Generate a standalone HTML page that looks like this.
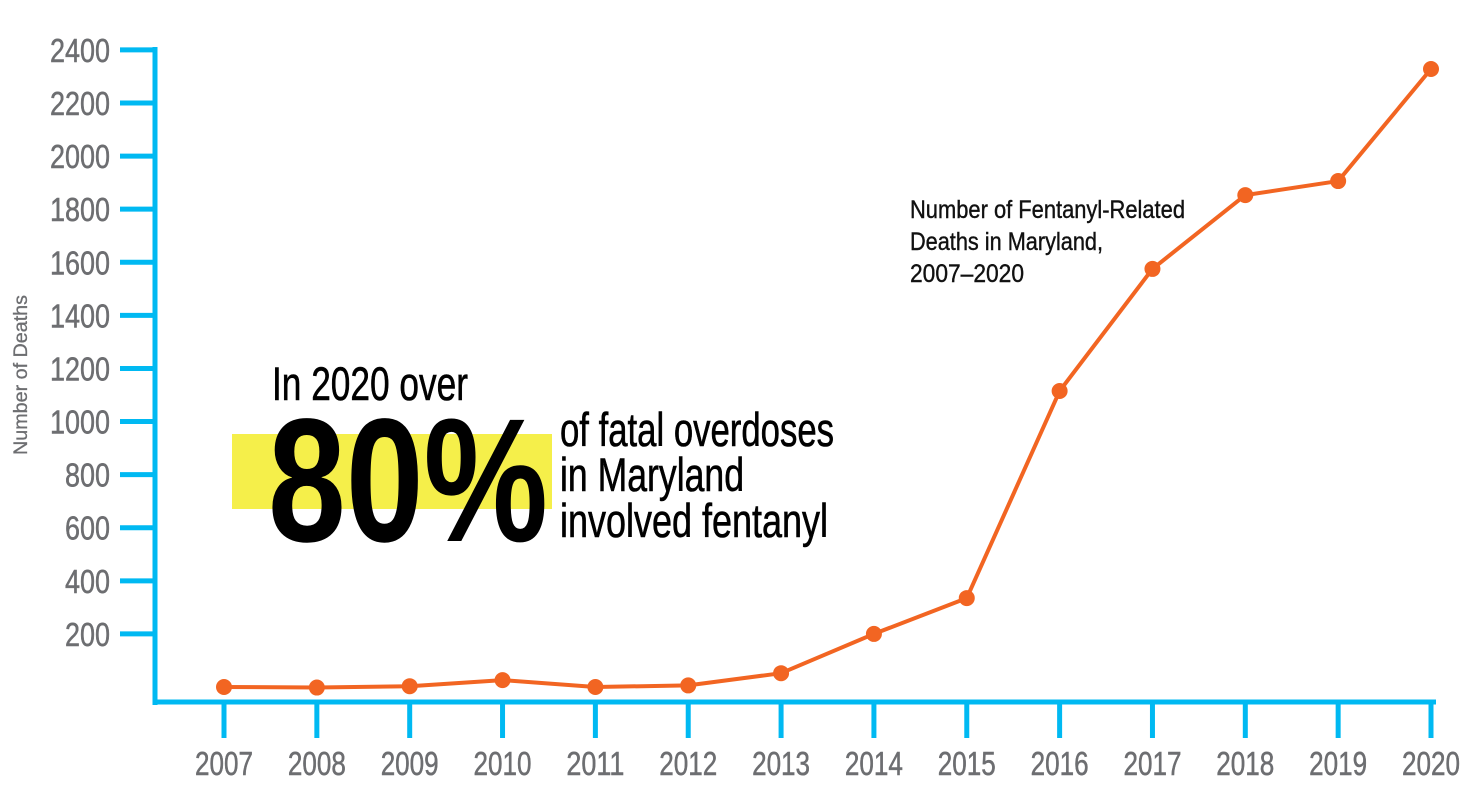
<!DOCTYPE html>
<html><head><meta charset="utf-8"><style>
html,body{margin:0;padding:0;background:#fff;width:1482px;height:788px;overflow:hidden}
svg{display:block}
text{font-family:"Liberation Sans Narrow","Liberation Sans",sans-serif}
</style></head><body>
<svg id="chart" width="1482" height="788" viewBox="0 0 1482 788">
<g id="axes"></g>
<g id="series"></g>
<text transform="translate(27,375) rotate(-90)" text-anchor="middle" font-size="19" fill="#6d6e71" stroke="#6d6e71" stroke-width="0.3" textLength="160" lengthAdjust="spacingAndGlyphs">Number of Deaths</text>
<g font-size="25" fill="#111" stroke="#111" stroke-width="0.4">
<text x="910" y="218" textLength="275" lengthAdjust="spacingAndGlyphs">Number of Fentanyl-Related</text>
<text x="910" y="250" textLength="193" lengthAdjust="spacingAndGlyphs">Deaths in Maryland,</text>
<text x="910" y="282" textLength="114" lengthAdjust="spacingAndGlyphs">2007–2020</text>
</g>
<g>
<rect x="232" y="434" width="320" height="75" fill="#f5ef4a"/>
<text x="272" y="400" font-size="47" fill="#000" stroke="#000" stroke-width="0.6" textLength="196" lengthAdjust="spacingAndGlyphs">In 2020 over</text>
<text x="268" y="541" font-size="176" font-weight="bold" fill="#000" textLength="280" lengthAdjust="spacingAndGlyphs">80%</text>
<text x="560" y="446" font-size="47" fill="#000" stroke="#000" stroke-width="0.6" textLength="274" lengthAdjust="spacingAndGlyphs">of fatal overdoses</text>
<text x="560" y="491" font-size="47" fill="#000" stroke="#000" stroke-width="0.6" textLength="184" lengthAdjust="spacingAndGlyphs">in Maryland</text>
<text x="560" y="537" font-size="47" fill="#000" stroke="#000" stroke-width="0.6" textLength="268" lengthAdjust="spacingAndGlyphs">involved fentanyl</text>
</g>
</svg>
<script>
const years = ["2007","2008","2009","2010","2011","2012","2013","2014","2015","2016","2017","2018","2019","2020"];
const deaths = [0, -2, 3, 26, 0, 6, 52, 200, 335, 1115, 1575, 1853, 1906, 2328];
const yTicks = [200,400,600,800,1000,1200,1400,1600,1800,2000,2200,2400];

const NS = "http://www.w3.org/2000/svg";
const xScale = i => 224 + i * (1431 - 224) / (years.length - 1);
const yScale = v => 687 - v * (634 - 50) / 2200;
function mk(tag, attrs, parent){const e=document.createElementNS(NS,tag);for(const k in attrs)e.setAttribute(k,attrs[k]);parent.appendChild(e);return e;}
const axes = document.getElementById('axes');
const series = document.getElementById('series');
const blue = "#00b9f2";
let yl = mk('line',{x1:155,y1:47,x2:155,y2:705,stroke:blue,'stroke-width':5},axes);


let xl = mk('line',{x1:153,y1:702,x2:1436,y2:702,stroke:blue,'stroke-width':5},axes);


yTicks.forEach(v=>{
  const y=yScale(v);
  const t=mk('line',{x1:120,y1:y,x2:155,y2:y,stroke:blue,'stroke-width':5},axes);
  
  
  const s=String(v);
  const lb=mk('text',{x:110,y:y+12,'text-anchor':'end','font-size':33,fill:'#6d6e71',stroke:'#6d6e71','stroke-width':0.5,textLength:s.length*15,lengthAdjust:'spacingAndGlyphs'},axes);
  lb.textContent=s;
  
  
});
years.forEach((yr,i)=>{
  const x=xScale(i);
  const t=mk('line',{x1:x,y1:702,x2:x,y2:738,stroke:blue,'stroke-width':5},axes);
  
  
  const lb=mk('text',{x:x,y:775,'text-anchor':'middle','font-size':33,fill:'#6d6e71',stroke:'#6d6e71','stroke-width':0.5,textLength:58,lengthAdjust:'spacingAndGlyphs'},axes);
  lb.textContent=yr;
  
  
});
const pts = deaths.map((v,i)=>xScale(i)+','+yScale(v)).join(' ');
const pl = mk('polyline',{points:pts,fill:'none',stroke:'#f26522','stroke-width':4,'stroke-linejoin':'round'},series);


deaths.forEach((v,i)=>{
  const c=mk('circle',{cx:xScale(i),cy:yScale(v),r:8,fill:'#f26522'},series);
  
  
});
</script>
</body></html>
